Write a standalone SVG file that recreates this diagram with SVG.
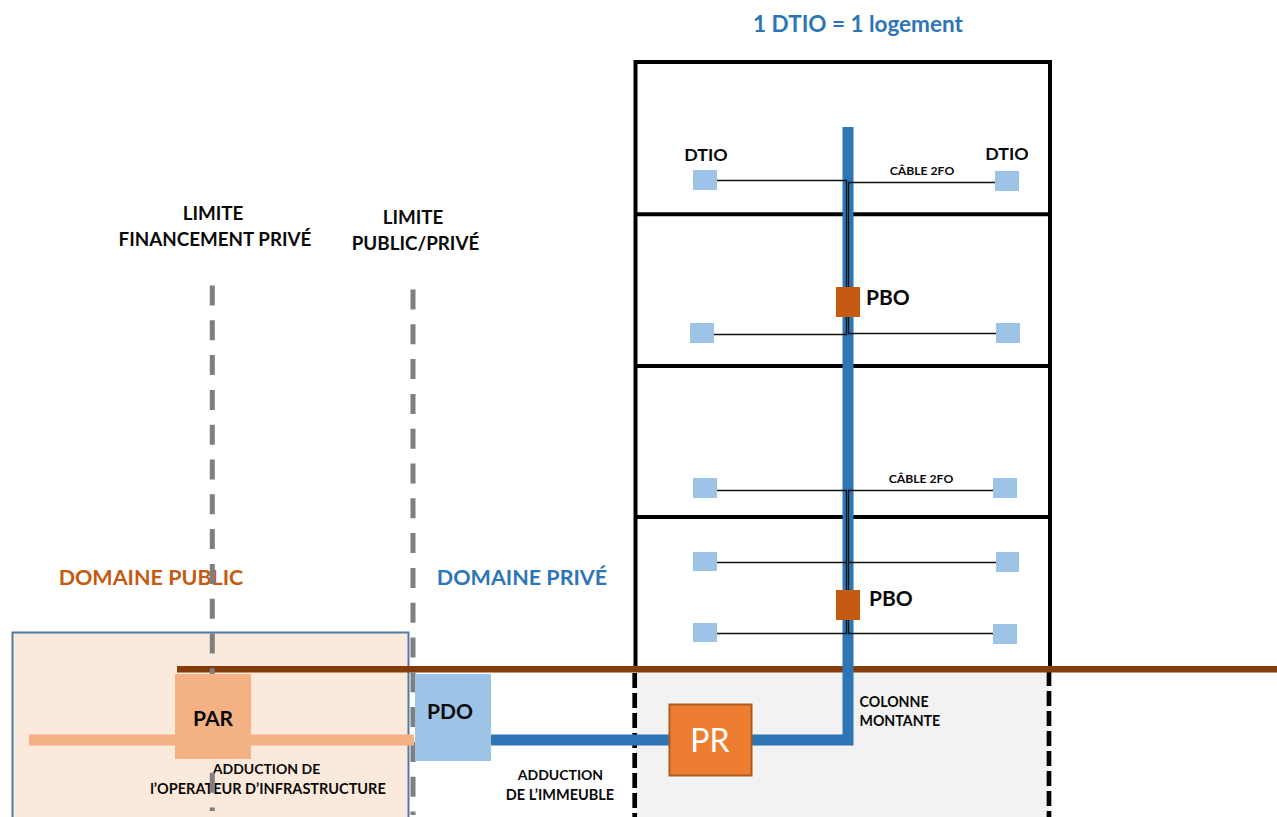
<svg xmlns="http://www.w3.org/2000/svg" width="1277" height="817" viewBox="0 0 1277 817">
<style>
text{font-family:"Lato","Liberation Sans",sans-serif;font-weight:700;fill:#0a0a0a}
.dom{font-size:21.500px}
.lim{font-size:18.800px;text-anchor:middle}
.big{font-size:21px}
.sm{font-size:14.500px;text-anchor:middle}
.side{font-size:14.200px}
.cab{font-size:12.200px;text-anchor:middle}
.dt{fill:#9dc3e6}
.pb{fill:#c55a11}
.wire{fill:none;stroke:#111;stroke-width:1.300}
.floor{fill:none;stroke:#000;stroke-width:4}
.gd{fill:none;stroke:#7f7f7f;stroke-width:5;stroke-dasharray:20 14.800}
.bd{fill:none;stroke:#000;stroke-width:4.700;stroke-dasharray:15 5}
</style>
<g id="zones">
<rect x="12.500" y="632.500" width="396" height="190" fill="#fbe9db" stroke="#4f7ba7" stroke-width="2"/>
<rect x="636" y="672" width="413" height="145" fill="#f2f2f2"/>
</g>
<g id="building">
<rect x="635.500" y="62" width="414.500" height="607" class="floor"/>
<line x1="635" y1="214.300" x2="1050" y2="214.300" class="floor"/>
<line x1="635" y1="366" x2="1050" y2="366" class="floor"/>
<line x1="635" y1="517" x2="1050" y2="517" class="floor"/>
<line x1="634.700" y1="673" x2="634.700" y2="817" class="bd"/>
<line x1="1049" y1="671" x2="1049" y2="817" class="bd"/>
</g>
<g id="labels-under">
<text x="151" y="585" class="dom" text-anchor="middle" style="fill:#c55a11">DOMAINE PUBLIC</text>
<text x="266.500" y="773.500" class="sm" style="font-size:14px">ADDUCTION DE</text>
<text x="268" y="793.500" class="sm">l’OPERATEUR D’INFRASTRUCTURE</text>
</g>
<g id="connectors">
<line x1="177" y1="669.300" x2="1277" y2="669.300" stroke="#843c0c" stroke-width="6.600"/>
<line x1="212.300" y1="285.500" x2="212.300" y2="811" class="gd"/>
<line x1="413" y1="289.500" x2="413" y2="815" class="gd"/>
<line x1="29" y1="740" x2="414" y2="740" stroke="#f4b183" stroke-width="11"/>
<path d="M490 740H848V127" fill="none" stroke="#2e75b6" stroke-width="11"/>
<path class="wire" d="M716 180.500H846.500V334.500H714"/>
<path class="wire" d="M995 182.500H848.500V333.500H996"/>
<path class="wire" d="M716 490.500H846.500V633.500H716"/>
<path class="wire" d="M994 490.500H848.500V633.500H994"/>
<path class="wire" d="M716 562.500H846.500M996 562.500H848.500"/>
</g>
<g id="dtio-1"><rect x="693" y="170" width="24" height="20" class="dt"/></g>
<g id="dtio-2"><rect x="995" y="171" width="24" height="20" class="dt"/></g>
<g id="dtio-3"><rect x="690" y="323" width="24" height="20" class="dt"/></g>
<g id="dtio-4"><rect x="996" y="323" width="24" height="20" class="dt"/></g>
<g id="dtio-5"><rect x="693" y="478" width="24" height="20" class="dt"/></g>
<g id="dtio-6"><rect x="993" y="478" width="24" height="20" class="dt"/></g>
<g id="dtio-7"><rect x="693" y="552" width="24" height="19" class="dt"/></g>
<g id="dtio-8"><rect x="996" y="552" width="23" height="20" class="dt"/></g>
<g id="dtio-9"><rect x="693" y="623" width="24" height="19" class="dt"/></g>
<g id="dtio-10"><rect x="993" y="624" width="24" height="20" class="dt"/></g>
<g id="pbo-1"><rect x="836" y="287" width="24" height="30" class="pb"/><text x="866" y="305" class="big">PBO</text></g>
<g id="pbo-2"><rect x="836" y="590" width="24" height="30" class="pb"/><text x="869" y="606" class="big">PBO</text></g>
<g id="par"><rect x="175" y="674" width="76" height="85" fill="#f4b183"/><text x="213" y="726" class="big" text-anchor="middle">PAR</text></g>
<g id="pdo"><rect x="415" y="674" width="76" height="87" fill="#9dc3e6"/><text x="450" y="719" class="big" text-anchor="middle">PDO</text></g>
<g id="pr"><rect x="669.500" y="704.500" width="82" height="71" fill="#ed7d31" stroke="#ae5a21" stroke-width="2"/><text x="710" y="752" font-size="32" text-anchor="middle" style="fill:#fff;font-weight:400">PR</text></g>
<g id="labels">
<text x="858" y="32" font-size="22.500" text-anchor="middle" style="fill:#2e75b6">1 DTIO = 1 logement</text>
<text x="706" y="161" font-size="17.800" text-anchor="middle">DTIO</text>
<text x="1007" y="160" font-size="17.800" text-anchor="middle">DTIO</text>
<text x="922" y="175" class="cab">CÂBLE 2FO</text>
<text x="921" y="483" class="cab">CÂBLE 2FO</text>
<text x="213" y="220" class="lim">LIMITE</text>
<text x="215" y="246" class="lim">FINANCEMENT PRIVÉ</text>
<text x="413" y="224" class="lim">LIMITE</text>
<text x="415.500" y="250" class="lim">PUBLIC/PRIVÉ</text>
<text x="522" y="585" class="dom" text-anchor="middle" style="fill:#2e75b6">DOMAINE PRIVÉ</text>
<text x="560.500" y="780" class="sm" style="font-size:14px">ADDUCTION</text>
<text x="560" y="800" class="sm">DE L’IMMEUBLE</text>
<text x="859.500" y="706.500" class="side">COLONNE</text>
<text x="859.500" y="725.500" class="side">MONTANTE</text>
</g>
</svg>
